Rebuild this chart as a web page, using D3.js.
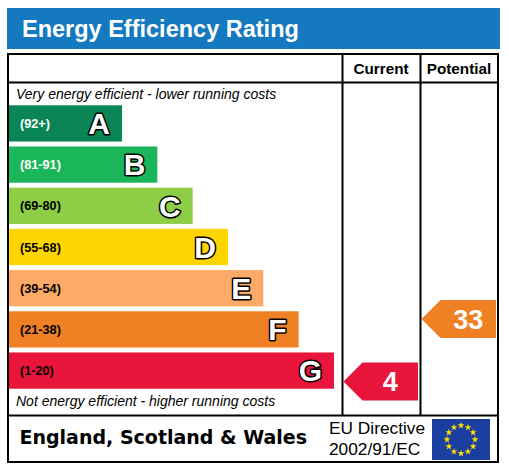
<!DOCTYPE html>
<html><head><meta charset="utf-8">
<script src="https://cdn.jsdelivr.net/npm/d3@7"></script>
<style>html,body{margin:0;padding:0;background:#fff;}svg{display:block;}</style>
</head><body>
<svg id="c" width="509" height="467"></svg>
<script>
const bands = ["A","B","C","D","E","F","G"];
const ranges = ["(92+)","(81-91)","(69-80)","(55-68)","(39-54)","(21-38)","(1-20)"];
const bandMin = [92, 81, 69, 55, 39, 21, 1];
const bandColors = ["#0a8656","#1bb65a","#8dce46","#ffd500","#fcaa65","#ef8023","#e9153b"];
const labelColors = ["#fff","#fff","#000","#000","#000","#000","#000"];
const currentScore = 4;
const potentialScore = 33;
const title = "Energy Efficiency Rating";
const columns = ["Current","Potential"];
const topNote = "Very energy efficient - lower running costs";
const bottomNote = "Not energy efficient - higher running costs";
const region = "England, Scotland & Wales";
const directive = ["EU Directive","2002/91/EC"];

const svg = d3.select("#c");
const F = "'Liberation Sans', Arial, sans-serif";

// banner
svg.append("rect").attr("x",7).attr("y",8).attr("width",493).attr("height",41).attr("fill","#1579c0");
svg.append("text").attr("x",22).attr("y",36.5).attr("fill","#fff")
  .attr("font-family",F).attr("font-weight","bold").attr("font-size",23.5).text(title);

// frame
const box = {l:8, t:54, r:498, b:462};
const colX = [342.5, 420.5];
svg.append("rect").attr("x",box.l).attr("y",box.t).attr("width",box.r-box.l).attr("height",box.b-box.t)
  .attr("fill","none").attr("stroke","#000").attr("stroke-width",2);
svg.append("line").attr("x1",box.l).attr("x2",box.r).attr("y1",82.5).attr("y2",82.5).attr("stroke","#000").attr("stroke-width",2);
svg.append("line").attr("x1",box.l).attr("x2",box.r).attr("y1",415.5).attr("y2",415.5).attr("stroke","#000").attr("stroke-width",2);
colX.forEach(x=>svg.append("line").attr("x1",x).attr("x2",x).attr("y1",box.t).attr("y2",415.5).attr("stroke","#000").attr("stroke-width",2));

// column headers
const colCenters = [381, 459];
columns.forEach((c,i)=>svg.append("text").attr("x",colCenters[i]).attr("y",74).attr("text-anchor","middle")
  .attr("font-family",F).attr("font-weight","bold").attr("font-size",15.3).attr("fill","#000").text(c));

// notes
svg.append("text").attr("x",16).attr("y",99).attr("font-family",F).attr("font-style","italic").attr("font-size",14).text(topNote);
svg.append("text").attr("x",16).attr("y",405.5).attr("font-family",F).attr("font-style","italic").attr("font-size",14).text(bottomNote);

// scales
const y = d3.scaleBand().domain(bands).range([102.8, 391.2]).paddingInner(0.12).paddingOuter(0.06);
const xEnd = d3.scaleLinear().domain([0,6]).range([122, 334]);
const color = d3.scaleOrdinal(bands, bandColors);
const step = y.step();
// score -> y (piecewise linear inside bands)
const scoreDomain = bandMin.slice().reverse().concat([101]);
const scoreRange = scoreDomain.map((d,i)=> (y("G")+y.bandwidth()-1) - i*step);
const yScore = d3.scaleLinear().domain(scoreDomain).range(scoreRange);
const bandOf = s => bands[bandMin.findIndex(m=>s>=m)];

// bars
const g = svg.append("g");
const rows = g.selectAll("g.band").data(bands).join("g").attr("class","band");
rows.append("rect").attr("x",9).attr("y",d=>y(d)).attr("height",y.bandwidth())
  .attr("width",(d,i)=>xEnd(i)-9).attr("fill",d=>color(d));
rows.append("text").attr("x",20).attr("y",d=>y(d)+y.bandwidth()/2+4.5)
  .attr("font-family",F).attr("font-weight","bold").attr("font-size",12.7)
  .attr("fill",(d,i)=>labelColors[i]).text((d,i)=>ranges[i]);
rows.append("text").attr("x",(d,i)=>xEnd(i)-12).attr("y",d=>y(d)+y.bandwidth()/2+10.8)
  .attr("text-anchor","end").attr("font-family",F).attr("font-weight","bold").attr("font-size",30)
  .attr("fill","#fff").attr("stroke","#000").attr("stroke-width",3).attr("paint-order","stroke")
  .attr("stroke-linejoin","round").text(d=>d);

// arrows
function arrow(score, x0, x1){
  const cy = yScore(score), h = 19;
  const b = bandOf(score);
  const pts = [[x0,cy],[x0+h,cy-h],[x1,cy-h],[x1,cy+h],[x0+h,cy+h]];
  svg.append("path").attr("d",d3.line()(pts)+"Z").attr("fill",color(b));
  svg.append("text").attr("x",(x0+h+x1)/2).attr("y",cy+9.8).attr("text-anchor","middle")
    .attr("font-family",F).attr("font-weight","bold").attr("font-size",27).attr("fill","#fff").text(score);
}
arrow(currentScore, 343.5, 418);
arrow(potentialScore, 421.5, 496);

// footer
svg.append("text").attr("x",19.5).attr("y",444.3).attr("font-family","'DejaVu Sans', Verdana, sans-serif")
  .attr("font-weight","bold").attr("font-size",19).attr("fill","#000").text(region);
directive.forEach((t,i)=>svg.append("text").attr("x",329).attr("y",434+i*21).attr("font-family",F)
  .attr("font-size",17.3).attr("fill","#000").text(t));

// EU flag
svg.append("rect").attr("x",432).attr("y",419).attr("width",58).attr("height",41).attr("fill","#1a3fa0");
const starPath = d3.symbol().type(d3.symbolStar).size(15);
d3.range(12).forEach(k=>{
  const a = k*Math.PI/6;
  svg.append("path").attr("d",starPath())
    .attr("transform",`translate(${461+14*Math.sin(a)},${439.5-14*Math.cos(a)})`).attr("fill","#ffdd00");
});
</script>
</body></html>
